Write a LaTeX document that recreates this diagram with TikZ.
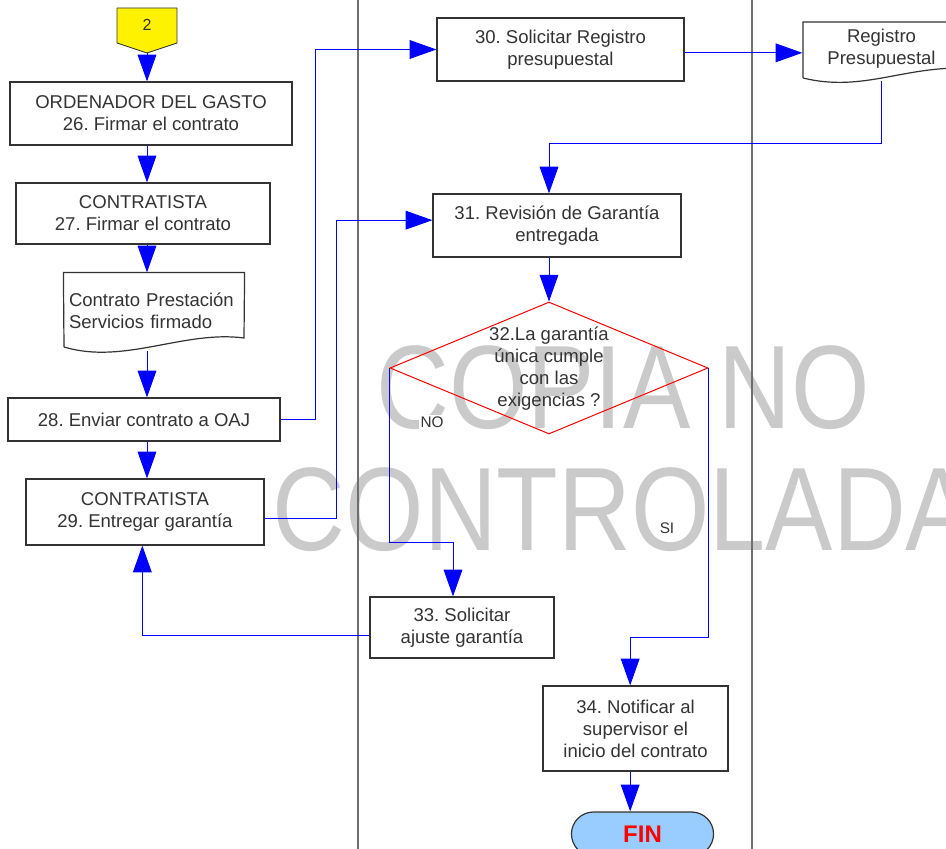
\documentclass[tikz,border=0pt]{standalone}
\usepackage{fontspec}
\setmainfont{Liberation Sans}
\usetikzlibrary{positioning,calc,shapes.geometric,shapes.misc,arrows.meta}
\frenchspacing

\definecolor{txtgray}{RGB}{51,51,51}
\definecolor{wmgray}{RGB}{202,202,202}
\definecolor{finblue}{RGB}{153,204,255}
\definecolor{lanegray}{RGB}{110,110,110}

\tikzset{
  box/.style={draw=black!80, line width=0.9pt, fill=white, text=txtgray, align=center,
    inner sep=2pt, font=\fontsize{13.9}{16.5}\selectfont},
  flow/.style={draw=blue, line width=0.75pt, -{Triangle[length=20pt,width=14pt]}},
  lane/.style={draw=lanegray, line width=1.1pt},
  lbl/.style={text=txtgray, fill=white, inner sep=1pt, font=\fontsize{11.5}{13}\selectfont},
  wmark/.style={anchor=base, text=wmgray, inner sep=0pt, font=\fontsize{89}{89}\selectfont}
}

\begin{document}
\begin{tikzpicture}[x=0.75pt, y=-0.75pt]
    \useasboundingbox (0,0) rectangle (946,849);
    \clip (0,0) rectangle (946,849);

    % Watermark behind everything
    \node[wmark] (wm1) at (623,428) {\scalebox{0.85}[1]{COPIA NO}};
    \node[wmark] (wm2) at (623,550) {\scalebox{0.85}[1]{CONTROLADA}};

    % Lanes
    \draw[lane] (358,0) -- (358,849);
    \draw[lane] (752,0) -- (752,849);

    % Off-page connector
    \draw[draw=black!80, line width=0.6pt, fill=yellow] (117,8) -- (177,8) -- (177,43) -- (147,53) -- (117,43) -- cycle;
    \node[text=txtgray, font=\fontsize{12}{14}\selectfont] (c2) at (147,25) {2};
    \coordinate (c2tip) at (147,53);

    % Left column
    \node[box, minimum width=211.5pt, minimum height=47.25pt] (n26) at (151,113.5) {ORDENADOR DEL GASTO\\26. Firmar el contrato};
    \node[box, minimum width=190.5pt, minimum height=45.75pt] (n27) at (143,213.5) {CONTRATISTA\\27. Firmar el contrato};
    \node[box, draw=none, fill=none, align=left, text width=127.5pt, minimum height=57pt, inner sep=3.75pt] (doc1) at (154,311) {Contrato Prestación\\Servicios firmado};
    \draw[draw=black!80, line width=0.9pt] (64,347) -- (doc1.north west) -- (doc1.north east) -- (244,338)
        .. controls (184,330) and (124,365) .. (64,347);
    \node[box, minimum width=204pt, minimum height=32.25pt] (n28) at (144,419.5) {28. Enviar contrato a OAJ};
    \node[box, minimum width=178.5pt, minimum height=49.5pt] (n29) at (145,512) {CONTRATISTA\\29. Entregar garantía};

    % Middle column
    \node[box, minimum width=185.25pt, minimum height=47.25pt] (n30) at (560.5,49.5) {30. Solicitar Registro\\presupuestal};
    \node[box, minimum width=186pt, minimum height=47.25pt] (n31) at (557,225.5) {31. Revisión de Garantía\\entregada};
    \node[diamond, draw=red, line width=0.75pt, minimum width=238.5pt, minimum height=99pt, inner sep=0pt] (d32) at (549,368) {};
    \node[box, draw=none, fill=none] (t32) at (549,369) {32.La garantía\\única cumple\\con las\\exigencias ?};
    \node[box, minimum width=138pt, minimum height=45.75pt] (n33) at (462,627.5) {33. Solicitar\\ajuste garantía};
    \node[box, minimum width=138.75pt, minimum height=63.75pt] (n34) at (635.5,728.5) {34. Notificar al\\supervisor el\\inicio del contrato};
    \node[rounded rectangle, draw=black!80, line width=0.9pt, fill=finblue, minimum width=113.25pt, minimum height=33pt,
        text=red, font=\fontsize{18}{20}\selectfont\bfseries] (fin) at (642.5,834) {FIN};

    % Right column
    \node[box, draw=none, fill=none, minimum width=117.75pt, minimum height=43.5pt] (reg) at (881.5,49) {Registro\\Presupuestal};
    \draw[draw=black!80, line width=0.9pt] (803,78) -- (803,22) -- (960,22) -- (960,68)
        .. controls (900,68) and (860,92) .. (803,78);

    % Connectors
    \draw[flow] (c2tip) -- (n26.north -| c2tip);
    \draw[flow] (n26.south -| c2tip) -- (n27.north -| c2tip);
    \draw[flow] (n27.south -| c2tip) -- (doc1.north -| c2tip);
    \draw[flow] ([yshift=-1pt]doc1.south -| c2tip) -- (n28.north -| c2tip);
    \draw[flow] (n28.south -| c2tip) -- (n29.north -| c2tip);
    \draw[flow] (n28.east) -- ++(35,0) |- (n30.west);
    \draw[flow] ([yshift=-5pt]n29.east) -- ++(72,0) |- ([yshift=4pt]n31.west);
    \draw[flow] ([yshift=-2.5pt]n30.east) -- ([yshift=-2.5pt]n30.east -| reg.west);
    \draw[flow] ([yshift=-2pt]reg.south) -- ++(0,62) -| (n31.north -| d32.north);
    \draw[flow] (n31.south -| d32.north) -- (d32.north);
    \draw[flow] (d32.west) -- ++(0,174) -| ([xshift=-6.75pt]n33.north);
    \draw[flow] (d32.east) -- ++(0,269) -| ([xshift=-4pt]n34.north);
    \draw[flow] ([yshift=-6pt]n33.west) -| ([xshift=-2pt]n29.south);
    \draw[flow] ([xshift=-4pt]n34.south) -- ([xshift=-4pt]n34.south |- fin.north);

    % Branch labels
    \node[lbl] (lno) at (432,422) {NO};
    \node[lbl] (lsi) at (667,528) {SI};
\end{tikzpicture}
\end{document}
